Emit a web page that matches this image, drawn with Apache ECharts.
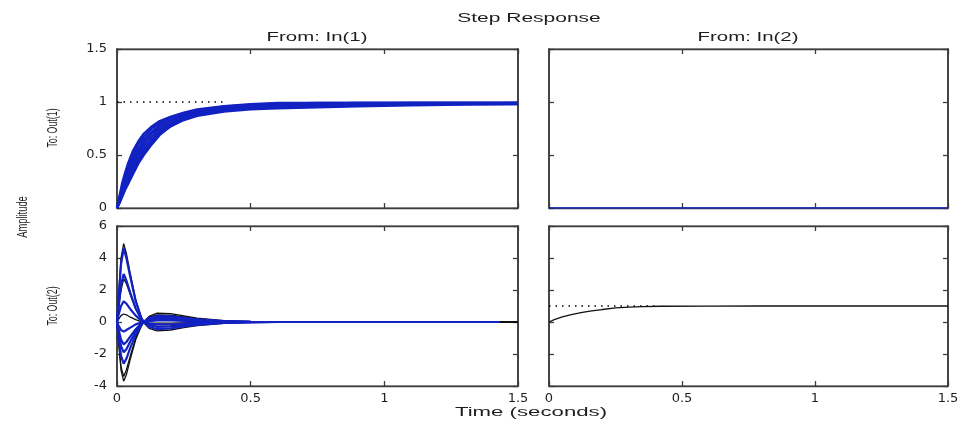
<!DOCTYPE html>
<html>
<head>
<meta charset="utf-8">
<title>Step Response</title>
<script src="https://cdn.jsdelivr.net/npm/echarts@6/dist/echarts.min.js"></script>
<style>
  html, body { margin: 0; padding: 0; background: #ffffff; }
  #chart { width: 966px; height: 425px; }
</style>
</head>
<body>
<div id="chart"></div>
<script>
// ---- Step response samples (time in seconds) ----

// From In(1) to Out(1): family of responses of the sampled plants
const timeIn1Out1 = [0, 0.01, 0.02, 0.03, 0.04, 0.06, 0.08, 0.1, 0.13, 0.16, 0.2, 0.25, 0.3, 0.4, 0.5, 0.6, 0.75, 0.9, 1.1, 1.3, 1.5];
const runsIn1Out1 = [
  [0, 0.12, 0.24, 0.33, 0.41, 0.54, 0.63, 0.70, 0.77, 0.82, 0.86, 0.90, 0.93, 0.96, 0.98, 0.99, 0.99, 0.99, 0.99, 0.99, 0.99],
  [0, 0.10, 0.21, 0.30, 0.38, 0.50, 0.60, 0.67, 0.75, 0.80, 0.85, 0.89, 0.92, 0.955, 0.975, 0.985, 0.99, 0.99, 0.99, 0.99, 0.99],
  [0, 0.09, 0.18, 0.27, 0.34, 0.46, 0.56, 0.64, 0.72, 0.78, 0.83, 0.88, 0.91, 0.95, 0.97, 0.98, 0.985, 0.99, 0.99, 0.99, 0.99],
  [0, 0.08, 0.16, 0.24, 0.31, 0.43, 0.53, 0.61, 0.70, 0.76, 0.82, 0.87, 0.90, 0.94, 0.965, 0.975, 0.98, 0.985, 0.99, 0.99, 0.99],
  [0, 0.07, 0.14, 0.21, 0.28, 0.40, 0.50, 0.58, 0.67, 0.74, 0.80, 0.86, 0.89, 0.935, 0.955, 0.97, 0.975, 0.98, 0.985, 0.985, 0.99],
  [0, 0.06, 0.13, 0.19, 0.25, 0.36, 0.46, 0.55, 0.64, 0.72, 0.79, 0.85, 0.89, 0.93, 0.95, 0.96, 0.97, 0.975, 0.98, 0.985, 0.985],
  [0, 0.055, 0.12, 0.18, 0.23, 0.34, 0.44, 0.52, 0.62, 0.70, 0.77, 0.84, 0.88, 0.92, 0.94, 0.95, 0.96, 0.97, 0.975, 0.98, 0.98],
  [0, 0.05, 0.11, 0.17, 0.22, 0.32, 0.42, 0.50, 0.60, 0.69, 0.77, 0.83, 0.87, 0.91, 0.93, 0.94, 0.95, 0.96, 0.97, 0.975, 0.98]
];

// From In(1) to Out(2): transient spikes that settle back to zero
const timeIn1Out2 = [0, 0.005, 0.015, 0.025, 0.035, 0.05, 0.07, 0.09, 0.1, 0.12, 0.15, 0.2, 0.25, 0.3, 0.4, 0.5, 0.6, 0.8, 1.0, 1.2, 1.43];
const blueRunsIn1Out2 = [
  [0, 1.2, 3.6, 4.6, 4.0, 2.8, 1.3, 0.3, 0, -0.3, -0.45, -0.4, -0.28, -0.18, -0.06, -0.02, 0, 0, 0, 0, 0],
  [0, 0.8, 2.3, 3.0, 2.6, 1.8, 0.85, 0.2, 0, -0.2, -0.3, -0.28, -0.2, -0.12, -0.04, -0.01, 0, 0, 0, 0, 0],
  [0, 0.4, 1.0, 1.3, 1.15, 0.8, 0.4, 0.1, 0, -0.1, -0.15, -0.14, -0.1, -0.06, -0.02, 0, 0, 0, 0, 0, 0],
  [0, -0.2, -0.5, -0.6, -0.5, -0.35, -0.15, -0.03, 0, 0.06, 0.1, 0.1, 0.07, 0.04, 0.01, 0, 0, 0, 0, 0, 0],
  [0, -0.4, -1.1, -1.4, -1.25, -0.9, -0.45, -0.1, 0, 0.12, 0.2, 0.2, 0.15, 0.09, 0.03, 0.01, 0, 0, 0, 0, 0],
  [0, -0.6, -1.5, -1.9, -1.7, -1.2, -0.6, -0.15, 0, 0.18, 0.28, 0.27, 0.2, 0.12, 0.04, 0.01, 0, 0, 0, 0, 0],
  [0, -0.8, -2.1, -2.6, -2.3, -1.6, -0.8, -0.2, 0, 0.25, 0.38, 0.36, 0.26, 0.16, 0.05, 0.01, 0, 0, 0, 0, 0]
];
const timeIn1Out2Long = [0, 0.005, 0.015, 0.025, 0.035, 0.05, 0.07, 0.09, 0.1, 0.12, 0.15, 0.2, 0.25, 0.3, 0.4, 0.5, 0.6, 0.8, 1.0, 1.2, 1.5];
const blackRunsIn1Out2 = [
  [0, 1.5, 4.0, 4.9, 4.3, 3.0, 1.4, 0.3, -0.05, -0.4, -0.55, -0.5, -0.35, -0.22, -0.08, -0.02, 0, 0, 0, 0, 0],
  [0, 0.7, 2.0, 2.7, 2.4, 1.7, 0.8, 0.2, 0, -0.18, -0.28, -0.25, -0.18, -0.1, -0.03, 0, 0, 0, 0, 0, 0],
  [0, 0.15, 0.4, 0.5, 0.45, 0.3, 0.15, 0.03, 0, -0.05, -0.07, -0.07, -0.05, -0.03, -0.01, 0, 0, 0, 0, 0, 0],
  [0, -1.0, -2.8, -3.4, -3.0, -2.1, -1.0, -0.25, 0, 0.3, 0.45, 0.43, 0.32, 0.2, 0.06, 0.02, 0, 0, 0, 0, 0],
  [0, -1.1, -3.0, -3.7, -3.3, -2.3, -1.1, -0.3, 0, 0.35, 0.55, 0.52, 0.38, 0.24, 0.08, 0.02, 0, 0, 0, 0, 0]
];

// From In(2) to Out(1): identically zero
const timeIn2Out1 = [0, 1.5];
const valuesIn2Out1 = [0, 0];

// From In(2) to Out(2): single first-order rise to 1
const timeIn2Out2 = [0, 0.02, 0.05, 0.08, 0.12, 0.16, 0.2, 0.25, 0.3, 0.35, 0.42, 0.6, 0.8, 1.0, 1.2, 1.5];
const valuesIn2Out2 = [0, 0.15, 0.32, 0.45, 0.58, 0.69, 0.78, 0.88, 0.93, 0.96, 0.985, 0.995, 1, 1, 1, 1];

// Steady-state reference (dotted) segments: [tStart, tEnd, level]
const steadyIn1Out1 = [0, 0.4, 1];
const steadyIn2Out2 = [0, 0.41, 1];

// Axis tick settings
const timeTicks = { min: 0, max: 1.5, interval: 0.5 };
const out1Ticks = { min: 0, max: 1.5, interval: 0.5 };
const out2Ticks = { min: -4, max: 6, interval: 2 };

// ---- Layout ----
const BLUE = '#1222c2';
const BLACK = '#111111';
const FRAME = '#3c3c3c';
const TEXT = '#1e1e1e';
const TICK_FONT = '"DejaVu Sans", "Liberation Sans", sans-serif';
const TITLE_FONT = '"Liberation Sans", Arial, sans-serif';

const panels = [
  { left: 117, top: 49, width: 401, height: 159, row: 0, col: 0 },
  { left: 549, top: 49, width: 399, height: 159, row: 0, col: 1 },
  { left: 117, top: 226, width: 401, height: 160, row: 1, col: 0 },
  { left: 549, top: 226, width: 399, height: 160, row: 1, col: 1 }
];

const grids = [], xAxes = [], yAxes = [];
panels.forEach((p, i) => {
  grids.push({
    left: p.left, top: p.top, width: p.width, height: p.height,
    show: true, backgroundColor: '#ffffff', borderColor: FRAME, borderWidth: 1,
    containLabel: false
  });
  const yt = p.row === 0 ? out1Ticks : out2Ticks;
  const xLine = { show: true, onZero: false, lineStyle: { color: FRAME, width: 1.3 } };
  const yLine = { show: true, onZero: false, lineStyle: { color: FRAME, width: 1.8 } };
  const axisTick = { show: true, inside: true, length: 5, lineStyle: { color: FRAME, width: 1.3 } };
  // bottom and top time axes
  xAxes.push({
    type: 'value', gridIndex: i, position: 'bottom',
    min: timeTicks.min, max: timeTicks.max, interval: timeTicks.interval,
    axisLine: xLine, axisTick, splitLine: { show: false },
    axisLabel: {
      show: p.row === 1, margin: 6, color: TEXT, fontSize: 13, fontFamily: TICK_FONT,
      showMinLabel: true, showMaxLabel: true
    }
  });
  xAxes.push({
    type: 'value', gridIndex: i, position: 'top',
    min: timeTicks.min, max: timeTicks.max, interval: timeTicks.interval,
    axisLine: xLine, axisTick, splitLine: { show: false }, axisLabel: { show: false }
  });
  // left and right amplitude axes
  yAxes.push({
    type: 'value', gridIndex: i, position: 'left',
    min: yt.min, max: yt.max, interval: yt.interval,
    axisLine: yLine, axisTick, splitLine: { show: false },
    axisLabel: {
      show: p.col === 0, margin: 10, color: TEXT, fontSize: 13, fontFamily: TICK_FONT,
      showMinLabel: true, showMaxLabel: true
    }
  });
  yAxes.push({
    type: 'value', gridIndex: i, position: 'right',
    min: yt.min, max: yt.max, interval: yt.interval,
    axisLine: yLine, axisTick, splitLine: { show: false }, axisLabel: { show: false }
  });
});

function pairs(ts, vs) {
  return ts.map((t, k) => [t, vs[k]]);
}

function lineSeries(panelIndex, data, color, width, extra) {
  return Object.assign({
    type: 'line',
    xAxisIndex: panelIndex * 2,
    yAxisIndex: panelIndex * 2,
    data: data,
    showSymbol: false,
    symbol: 'none',
    smooth: false,
    silent: true,
    clip: true,
    lineStyle: { color: color, width: width },
    emphasis: { disabled: true }
  }, extra || {});
}

const dotted = { lineStyle: { color: '#000000', width: 1.5, type: [1.5, 5] } };
const series = [];

// Panel 1: In(1) -> Out(1)
series.push(lineSeries(0, [[steadyIn1Out1[0], steadyIn1Out1[2]], [steadyIn1Out1[1], steadyIn1Out1[2]]], BLACK, 1, dotted));
runsIn1Out1.forEach(run => series.push(lineSeries(0, pairs(timeIn1Out1, run), BLUE, 2.4)));

// Panel 2: In(2) -> Out(1)
series.push(lineSeries(1, pairs(timeIn2Out1, valuesIn2Out1), BLUE, 1.6));

// Panel 3: In(1) -> Out(2)  (black runs underneath, blue runs on top)
blackRunsIn1Out2.forEach(run => series.push(lineSeries(2, pairs(timeIn1Out2Long, run), BLACK, 1.3)));
blueRunsIn1Out2.forEach(run => series.push(lineSeries(2, pairs(timeIn1Out2, run), BLUE, 2.2)));

// Panel 4: In(2) -> Out(2)
series.push(lineSeries(3, [[steadyIn2Out2[0], steadyIn2Out2[2]], [steadyIn2Out2[1], steadyIn2Out2[2]]], BLACK, 1, dotted));
series.push(lineSeries(3, pairs(timeIn2Out2, valuesIn2Out2), BLACK, 1.3));

// Wide, MATLAB-style captions
function caption(text, x, y, opts) {
  const o = opts || {};
  return {
    type: 'text', x: x, y: y,
    rotation: o.rotation || 0,
    scaleX: o.scaleX || 1, scaleY: o.scaleY || 1,
    silent: true,
    style: {
      text: text,
      fill: TEXT,
      font: (o.size || 12) + 'px ' + TITLE_FONT,
      align: 'center', verticalAlign: 'middle',
      textAlign: 'center', textVerticalAlign: 'middle'
    }
  };
}

const graphics = [
  caption('Step Response', 529, 19, { scaleX: 1.75 }),
  caption('From: In(1)', 317, 38, { scaleX: 1.7 }),
  caption('From: In(2)', 748, 38, { scaleX: 1.7 }),
  caption('Time (seconds)', 531, 413, { scaleX: 1.85, size: 12 }),
  caption('Amplitude', 23, 217, { rotation: Math.PI / 2, scaleX: 0.85, scaleY: 1.4, size: 11 }),
  caption('To: Out(1)', 53, 128, { rotation: Math.PI / 2, scaleX: 0.8, scaleY: 1.35, size: 11 }),
  caption('To: Out(2)', 53, 306, { rotation: Math.PI / 2, scaleX: 0.8, scaleY: 1.35, size: 11 })
];

const chart = echarts.init(document.getElementById('chart'), null, { renderer: 'canvas' });
chart.setOption({
  animation: false,
  backgroundColor: '#ffffff',
  grid: grids,
  xAxis: xAxes,
  yAxis: yAxes,
  series: series,
  graphic: { elements: graphics }
});
</script>
</body>
</html>
